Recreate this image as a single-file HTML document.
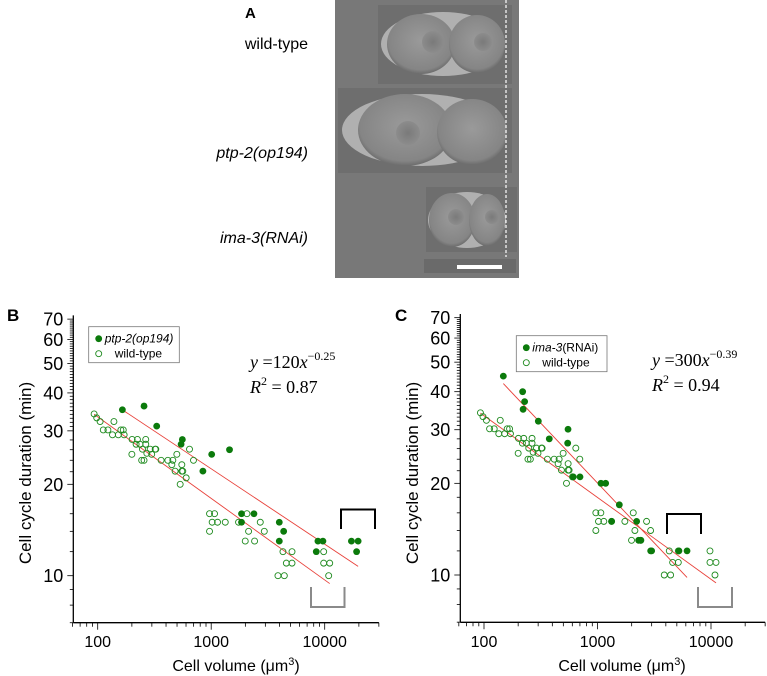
<!DOCTYPE html>
<html><head><meta charset="utf-8"><style>
html,body{margin:0;padding:0;background:#fff;}
svg{display:block;font-family:"Liberation Sans",sans-serif;}
</style></head><body>
<svg id="fig" width="767" height="676" viewBox="0 0 767 676">
<defs>
<radialGradient id="cellg" cx="50%" cy="45%" r="60%"><stop offset="0" stop-color="#9a9a9a"/><stop offset="0.8" stop-color="#858585"/><stop offset="1" stop-color="#5a5a5a"/></radialGradient>
<radialGradient id="nucg" cx="50%" cy="50%" r="50%"><stop offset="0" stop-color="#7a7a7a"/><stop offset="1" stop-color="#8c8c8c"/></radialGradient>
</defs>
<g>
<text x="245" y="18" font-size="15" font-weight="bold">A</text>
<text x="308" y="49" font-size="16" text-anchor="end">wild-type</text>
<text x="308" y="158" font-size="16" font-style="italic" text-anchor="end">ptp-2(op194)</text>
<text x="308" y="243" font-size="16" font-style="italic" text-anchor="end">ima-3(RNAi)</text>
<rect x="335" y="0" width="184" height="278" fill="#787878"/>
<g>
<rect x="378" y="5" width="134" height="79" fill="#6e6e6e"/>
<ellipse cx="443" cy="44" rx="62" ry="32" fill="#b0b0b0"/>
<ellipse cx="421" cy="44" rx="34" ry="30" fill="url(#cellg)"/>
<ellipse cx="477" cy="44" rx="28" ry="29" fill="url(#cellg)"/>
<circle cx="433" cy="42" r="11" fill="url(#nucg)"/>
<circle cx="483" cy="42" r="9" fill="url(#nucg)"/>
</g>
<g>
<rect x="338" y="88" width="174" height="85" fill="#6e6e6e"/>
<ellipse cx="422" cy="130" rx="80" ry="36" fill="#b0b0b0"/>
<ellipse cx="405" cy="130" rx="47" ry="36" fill="url(#cellg)"/>
<ellipse cx="472" cy="132" rx="35" ry="33" fill="url(#cellg)"/>
<circle cx="408" cy="133" r="12" fill="url(#nucg)"/>
</g>
<g>
<rect x="426" y="187" width="91" height="65" fill="#6e6e6e"/>
<ellipse cx="467" cy="220" rx="39" ry="28" fill="#b0b0b0"/>
<ellipse cx="452" cy="220" rx="23" ry="27" fill="url(#cellg)"/>
<ellipse cx="487" cy="220" rx="18" ry="26" fill="url(#cellg)"/>
<circle cx="456" cy="217" r="8" fill="url(#nucg)"/>
<circle cx="492" cy="217" r="7" fill="url(#nucg)"/>
</g>
<rect x="424" y="259" width="92" height="14" fill="#6a6a6a"/>
<rect x="457" y="265" width="45" height="4" fill="#fff"/>
<line x1="506" y1="0" x2="506" y2="257" stroke="#fff" stroke-width="1.2" stroke-dasharray="3,2"/>
</g>
<g id="pb"></g>
<g id="pc"></g>
</svg>
<script>
// Shared wild-type data (cell volume um^3, cell cycle duration min)
const wtVolume = [93,98,105,112,123,135,139,152,160,168,171,200,201,218,224,236,248,244,256,265,265,271,290,299,321,325,362,415,450,459,481,498,533,551,551,562,644,698,602,967,1070,1020,967,1137,1330,1742,1995,2065,2135,2411,2706,2936,3874,4407,4288,4592,5152,5152,9795,9795,10840,11070];
const wtDuration = [34.1,33.1,32.2,30.2,30.2,29.1,32.2,29.1,30.2,30.2,29.1,25.1,28.1,27.1,28.1,27.1,26.1,24.0,24.0,28.1,27.1,25.3,26.1,25.1,26.1,26.1,24.0,24.0,23.2,24.0,22.1,25.1,20.0,23.2,22.1,22.1,26.1,24.0,21.0,16.0,16.0,15.0,14.0,15.0,15.0,15.0,13.0,16.0,14.0,13.0,15.0,14.0,10.0,10.0,12.0,11.0,12.0,11.0,12.0,11.0,10.0,11.0];
// Panel B: ptp-2(op194)
const ptpVolume = [165,256,331,543,557,845,1010,1450,1850,1850,2380,3980,3980,4350,8430,8720,9640,17200,19700,19100];
const ptpDuration = [35.2,36.2,31.1,27.1,28.1,22.1,25.1,26.0,16.0,15.0,16.0,15.0,13.0,14.0,12.0,13.0,13.0,13.0,13.0,12.0];
// Panel C: ima-3(RNAi)
const imaVolume = [148,219,228,221,301,376,550,546,612,701,1073,1180,1333,1557,2213,2305,2400,2940,3000,5220,6150];
const imaDuration = [45.0,40.0,37.1,35.0,32.0,28.0,30.1,27.1,21.0,21.0,20.0,20.0,15.0,17.0,15.0,13.0,13.0,12.0,12.0,12.0,12.0];
const yTickLabels = [10,20,30,40,50,60,70];
const xTickLabels = [100,1000,10000];

const NS = "http://www.w3.org/2000/svg";
function mk(parent, tag, attrs, text){
  const e = document.createElementNS(NS, tag);
  for (const k in attrs) e.setAttribute(k, attrs[k]);
  if (text !== undefined) e.textContent = text;
  parent.appendChild(e);
  return e;
}
function fit(xs, ys){
  const lx = xs.map(Math.log10), ly = ys.map(Math.log10);
  const n = lx.length; let mx=0,my=0;
  for (let i=0;i<n;i++){mx+=lx[i];my+=ly[i];}
  mx/=n; my/=n; let sxy=0,sxx=0;
  for (let i=0;i<n;i++){sxy+=(lx[i]-mx)*(ly[i]-my);sxx+=(lx[i]-mx)**2;}
  const b = sxy/sxx; return {b:b, a:my-b*mx, x0:Math.min(...xs), x1:Math.max(...xs)};
}
function drawPanel(g, cfg){
  const X = v => cfg.x100 + (Math.log10(v)-2)*cfg.xdec;
  const Y = v => cfg.y10 - (Math.log10(v)-1)*cfg.ydec;
  const ax = cfg.axisX, ay = cfg.axisY;
  const lab = mk(g,'text',{x:cfg.letterX,y:321,'font-size':17,'font-weight':'bold'},cfg.letter);
  
  
  const yl = mk(g,'line',{x1:ax,y1:Y(72),x2:ax,y2:ay,stroke:'#000','stroke-width':1.3});
  
  
  const xl = mk(g,'line',{x1:ax,y1:ay,x2:X(30000),y2:ay,stroke:'#000','stroke-width':1.3});
  
  
  for (let v=7; v<=70; v++){
    const major = yTickLabels.indexOf(v)>=0;
    if (!major && v>10 && v<30 && v%2) continue;
    const t = mk(g,'line',{x1:ax-(major?6:3.5),y1:Y(v),x2:ax,y2:Y(v),stroke:'#000','stroke-width':0.8});
    
    
  }
  yTickLabels.forEach(v=>{
    const t = mk(g,'text',{x:ax-10,y:Y(v)+6.5,'font-size':18,'text-anchor':'end'},String(v));
    
    
  });
  const minors=[60,70,80,90,100,200,300,400,500,600,700,800,900,1000,2000,3000,4000,5000,6000,7000,8000,9000,10000,20000,30000];
  minors.forEach(v=>{
    const major = xTickLabels.indexOf(v)>=0;
    const t = mk(g,'line',{x1:X(v),y1:ay,x2:X(v),y2:ay+(major?7:4),stroke:'#000','stroke-width':0.8});
    
    
  });
  xTickLabels.forEach(v=>{
    const t = mk(g,'text',{x:X(v),y:647,'font-size':16,'text-anchor':'middle'},String(v));
    
    
  });
  const xt = mk(g,'text',{x:cfg.xTitleX,y:671,'font-size':16,'text-anchor':'middle'});
  
  
  xt.innerHTML = 'Cell volume (μm<tspan font-size="11" dy="-6">3</tspan><tspan dy="6">)</tspan>';
  const yt = mk(g,'text',{x:0,y:0,'font-size':17,'text-anchor':'middle',transform:'translate('+(cfg.yTitleX)+',473) rotate(-90)'},'Cell cycle duration (min)');
  
  
  [fit(wtVolume,wtDuration), fit(cfg.mutX,cfg.mutY)].forEach((f,i)=>{
    const l = mk(g,'line',{x1:X(f.x0),y1:Y(Math.pow(10,f.a+f.b*Math.log10(f.x0))),x2:X(f.x1),y2:Y(Math.pow(10,f.a+f.b*Math.log10(f.x1))),stroke:'#e8413a','stroke-width':0.9});
    
    
  });
  wtVolume.forEach((v,i)=>{
    const c = mk(g,'circle',{cx:X(v),cy:Y(wtDuration[i]),r:3,fill:'none',stroke:'#1e8a1e','stroke-width':0.9});
    
    
  });
  cfg.mutX.forEach((v,i)=>{
    const c = mk(g,'circle',{cx:X(v),cy:Y(cfg.mutY[i]),r:3.4,fill:'#0b7a0b'});
    
    
  });
  const b1 = mk(g,'path',{d:cfg.black,fill:'none',stroke:'#000','stroke-width':2});
  
  
  const b2 = mk(g,'path',{d:cfg.gray,fill:'none',stroke:'#8a8a8a','stroke-width':2});
  
  
  const lg = mk(g,'g',{});
  
  
  const L=cfg.leg;
  mk(lg,'rect',{x:L[0],y:L[1],width:L[2],height:36,fill:'#fff',stroke:'#777','stroke-width':0.8});
  const e1 = mk(lg,'circle',{cx:L[0]+10,cy:L[1]+12,r:3.4,fill:'#0b7a0b'});
  
  
  const t1 = mk(lg,'text',{x:L[0]+16,y:L[1]+16,'font-size':12});
  t1.innerHTML = cfg.mutLabel;
  mk(lg,'circle',{cx:L[0]+10,cy:L[1]+27,r:3,fill:'none',stroke:'#1e8a1e','stroke-width':0.9});
  const t2 = mk(lg,'text',{x:L[0]+26,y:L[1]+31,'font-size':12},'wild-type');
  
  
  const eq = mk(g,'text',{x:cfg.eqX,y:cfg.eqY,'font-size':18,'font-family':'"Liberation Serif",serif'});
  
  
  eq.innerHTML = '<tspan font-style="italic">y</tspan> =' + cfg.coef + '<tspan font-style="italic">x</tspan><tspan font-size="12" dy="-8">−' + cfg.exp + '</tspan>';
  const r2 = mk(g,'text',{x:cfg.eqX,y:cfg.eqY+25,'font-size':18,'font-family':'"Liberation Serif",serif'});
  
  
  r2.innerHTML = '<tspan font-style="italic">R</tspan><tspan font-size="12" dy="-8">2</tspan><tspan dy="8"> = ' + cfg.r2 + '</tspan>';
}
drawPanel(document.getElementById('pb'), {
  letter:'B', letterX:7, x100:97.7, xdec:113.5, y10:575.7, ydec:303.6, axisX:73.3, axisY:622.7,
  xTitleX:236, yTitleX:31, mutX:ptpVolume, mutY:ptpDuration,
  black:'M341,529 V509.5 H375 V529', gray:'M311,587 V607 H344.5 V587',
  leg:[88.7,326.7,90.6], mutLabel:'<tspan font-style="italic">ptp-2(op194)</tspan>',
  eqX:250, eqY:368, coef:'120', exp:'0.25', r2:'0.87'
});
drawPanel(document.getElementById('pc'), {
  letter:'C', letterX:395, x100:484, xdec:113.5, y10:575, ydec:304.5, axisX:460.3, axisY:622.3,
  xTitleX:622, yTitleX:418, mutX:imaVolume, mutY:imaDuration,
  black:'M667,534 V514 H701 V534', gray:'M698,587 V607 H732 V587',
  leg:[516.3,335.7,90.7], mutLabel:'<tspan font-style="italic">ima-3</tspan>(RNAi)',
  eqX:652, eqY:366, coef:'300', exp:'0.39', r2:'0.94'
});
</script>
</body></html>
